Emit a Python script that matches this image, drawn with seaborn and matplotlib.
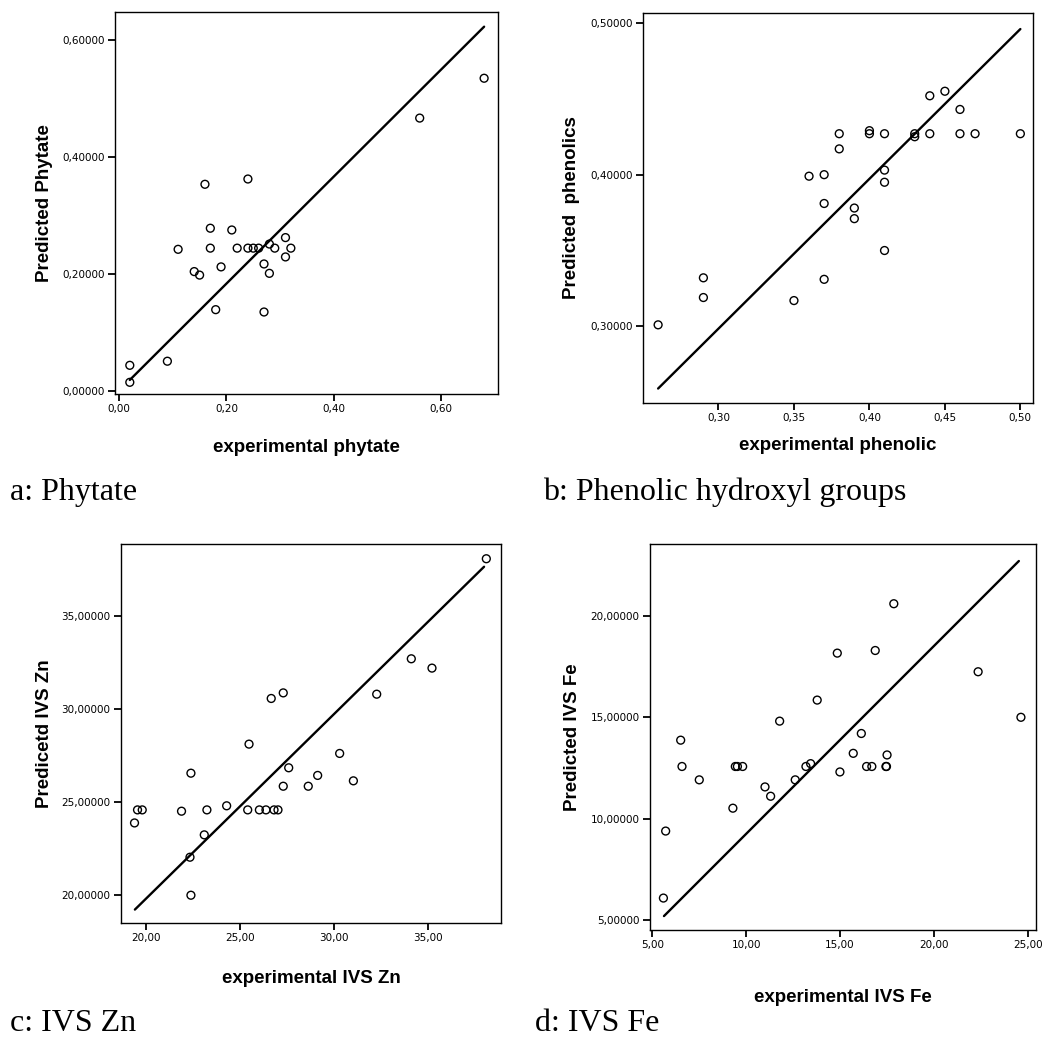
import matplotlib
matplotlib.use("Agg")
import matplotlib.pyplot as plt
import seaborn as sns
import numpy as np

sns.set_theme(style="ticks")
plt.rcParams['font.family'] = ['DejaVu Sans']
plt.rcParams['text.color'] = 'black'
plt.rcParams['axes.labelcolor'] = 'black'
plt.rcParams['xtick.color'] = 'black'
plt.rcParams['ytick.color'] = 'black'

# ---------------- data ----------------
phytate_exp = [0.02, 0.02, 0.09, 0.11, 0.14, 0.15, 0.16, 0.17, 0.17, 0.18, 0.19, 0.21, 0.22, 0.24,
               0.24, 0.25, 0.26, 0.27, 0.27, 0.28, 0.28, 0.29, 0.31, 0.31, 0.32, 0.56, 0.68]
phytate_pred = [0.044, 0.015, 0.051, 0.242, 0.204, 0.198, 0.353, 0.278, 0.244, 0.139, 0.212, 0.275,
                0.244, 0.362, 0.244, 0.244, 0.244, 0.217, 0.135, 0.251, 0.201, 0.244, 0.262, 0.229,
                0.244, 0.466, 0.534]
phytate_fit_x = [0.02, 0.68]
phytate_fit_y = [0.019, 0.622]

phenolic_exp = [0.26, 0.29, 0.29, 0.35, 0.36, 0.37, 0.37, 0.37, 0.38, 0.38, 0.39, 0.39, 0.40, 0.40,
                0.41, 0.41, 0.41, 0.41, 0.43, 0.43, 0.44, 0.44, 0.45, 0.46, 0.46, 0.47, 0.50]
phenolic_pred = [0.301, 0.332, 0.319, 0.317, 0.399, 0.400, 0.381, 0.331, 0.427, 0.417, 0.378, 0.371,
                 0.429, 0.427, 0.427, 0.403, 0.395, 0.350, 0.427, 0.425, 0.452, 0.427, 0.455, 0.443,
                 0.427, 0.427, 0.427]
phenolic_fit_x = [0.26, 0.50]
phenolic_fit_y = [0.259, 0.496]

zn_exp = [19.41, 19.57, 19.82, 21.91, 22.41, 22.36, 22.41, 23.12, 23.26, 24.31, 25.43, 25.50, 26.05,
          26.40, 26.68, 26.83, 27.04, 27.32, 27.32, 27.61, 28.65, 29.15, 30.32, 31.05, 32.29, 34.13,
          35.23, 38.12]
zn_pred = [23.88, 24.58, 24.58, 24.51, 26.55, 22.04, 20.00, 23.24, 24.58, 24.80, 24.58, 28.11, 24.58,
           24.58, 30.56, 24.58, 24.58, 30.86, 25.85, 26.84, 25.85, 26.43, 27.61, 26.14, 30.79, 32.69,
           32.19, 38.06]
zn_fit_x = [19.43, 38.00]
zn_fit_y = [19.23, 37.63]

fe_exp = [5.59, 5.71, 6.51, 6.58, 7.50, 9.29, 9.42, 9.53, 9.81, 11.00, 11.30, 11.78, 12.61, 13.18,
          13.43, 13.78, 14.85, 14.99, 15.70, 16.13, 16.41, 16.69, 16.87, 17.44, 17.47, 17.50, 17.86,
          22.35, 24.63]
fe_pred = [6.07, 9.38, 13.87, 12.57, 11.91, 10.51, 12.57, 12.57, 12.57, 11.56, 11.10, 14.81, 11.91,
           12.57, 12.71, 15.85, 18.17, 12.30, 13.22, 14.20, 12.57, 12.57, 18.30, 12.57, 12.57, 13.14,
           20.61, 17.25, 15.00]
fe_fit_x = [5.62, 24.52]
fe_fit_y = [5.18, 22.72]

# ticks and labels
a_xticks = [0.0, 0.2, 0.4, 0.6]
a_xlabels = ["0,00", "0,20", "0,40", "0,60"]
a_yticks = [0.0, 0.2, 0.4, 0.6]
a_ylabels = ["0,00000", "0,20000", "0,40000", "0,60000"]

b_xticks = [0.30, 0.35, 0.40, 0.45, 0.50]
b_xlabels = ["0,30", "0,35", "0,40", "0,45", "0,50"]
b_yticks = [0.30, 0.40, 0.50]
b_ylabels = ["0,30000", "0,40000", "0,50000"]

c_xticks = [20, 25, 30, 35]
c_xlabels = ["20,00", "25,00", "30,00", "35,00"]
c_yticks = [20, 25, 30, 35]
c_ylabels = ["20,00000", "25,00000", "30,00000", "35,00000"]

d_xticks = [5, 10, 15, 20, 25]
d_xlabels = ["5,00", "10,00", "15,00", "20,00", "25,00"]
d_yticks = [5, 10, 15, 20]
d_ylabels = ["5,00000", "10,00000", "15,00000", "20,00000"]

panels = [
    dict(x=phytate_exp, y=phytate_pred, fx=phytate_fit_x, fy=phytate_fit_y,
         xt=a_xticks, xl=a_xlabels, yt=a_yticks, yl=a_ylabels,
         xlabel="experimental phytate", ylabel="Predicted Phytate",
         caption="a: Phytate",
         rect=[0.1104, 0.6204, 0.3676, 0.3680], xlim=(-0.0075, 0.706), ylim=(-0.005, 0.647),
         xlc=-0.141, ylc=-0.183, cap_xy=(10, 500)),
    dict(x=phenolic_exp, y=phenolic_pred, fx=phenolic_fit_x, fy=phenolic_fit_y,
         xt=b_xticks, xl=b_xlabels, yt=b_yticks, yl=b_ylabels,
         xlabel="experimental phenolic", ylabel="Predicted  phenolics",
         caption="b: Phenolic hydroxyl groups",
         rect=[0.6171, 0.6118, 0.3743, 0.3757], xlim=(0.25, 0.5084), ylim=(0.2495, 0.5066),
         xlc=-0.108, ylc=-0.184, cap_xy=(543, 500)),
    dict(x=zn_exp, y=zn_pred, fx=zn_fit_x, fy=zn_fit_y,
         xt=c_xticks, xl=c_xlabels, yt=c_yticks, yl=c_ylabels,
         xlabel="experimental IVS Zn", ylabel="Predicetd IVS Zn",
         caption="c: IVS Zn",
         rect=[0.1161, 0.1108, 0.3647, 0.3651], xlim=(18.69, 38.90), ylim=(18.51, 38.85),
         xlc=-0.146, ylc=-0.200, cap_xy=(10, 1031)),
    dict(x=fe_exp, y=fe_pred, fx=fe_fit_x, fy=fe_fit_y,
         xt=d_xticks, xl=d_xlabels, yt=d_yticks, yl=d_ylabels,
         xlabel="experimental IVS Fe", ylabel="Predicted IVS Fe",
         caption="d: IVS Fe",
         rect=[0.6238, 0.1040, 0.3704, 0.3719], xlim=(4.876, 25.43), ylim=(4.49, 23.56),
         xlc=-0.174, ylc=-0.200, cap_xy=(535, 1031)),
]

W, H = 1042, 1038
fig = plt.figure(figsize=(W / 100, H / 100), dpi=100)
fig.patch.set_facecolor("white")

for p in panels:
    ax = fig.add_axes(p["rect"])
    ax.set_facecolor("white")
    sns.lineplot(x=p["fx"], y=p["fy"], color="black", linewidth=1.7, ax=ax)
    sns.scatterplot(x=p["x"], y=p["y"], s=32, facecolor="none", edgecolor="black",
                    linewidth=1.0, ax=ax, zorder=3)
    ax.set_xlim(*p["xlim"])
    ax.set_ylim(*p["ylim"])
    ax.set_xticks(p["xt"])
    ax.set_xticklabels(p["xl"])
    ax.set_yticks(p["yt"])
    ax.set_yticklabels(p["yl"])
    ax.tick_params(axis="both", direction="out", length=5, width=1.3, color="black",
                   labelsize=7.5, labelcolor="black", pad=2.5)
    for s in ax.spines.values():
        s.set_visible(True)
        s.set_color("black")
        s.set_linewidth(1.0)
    ax.set_xlabel(p["xlabel"], fontsize=13.5, fontweight="bold", family="Liberation Sans",
                  color="black")
    ax.set_ylabel(p["ylabel"], fontsize=13.5, fontweight="bold", family="Liberation Sans",
                  color="black")
    ax.xaxis.set_label_coords(0.5, p["xlc"])
    ax.yaxis.set_label_coords(p["ylc"], 0.5)
    ax.xaxis.label.set_va("center")
    ax.yaxis.label.set_va("center")
    cx, cy = p["cap_xy"]
    fig.text(cx / W, (H - cy) / H, p["caption"], fontsize=23, family="Liberation Serif",
             ha="left", va="baseline", color="black")

fig.savefig("out.png", dpi=100, facecolor="white")
